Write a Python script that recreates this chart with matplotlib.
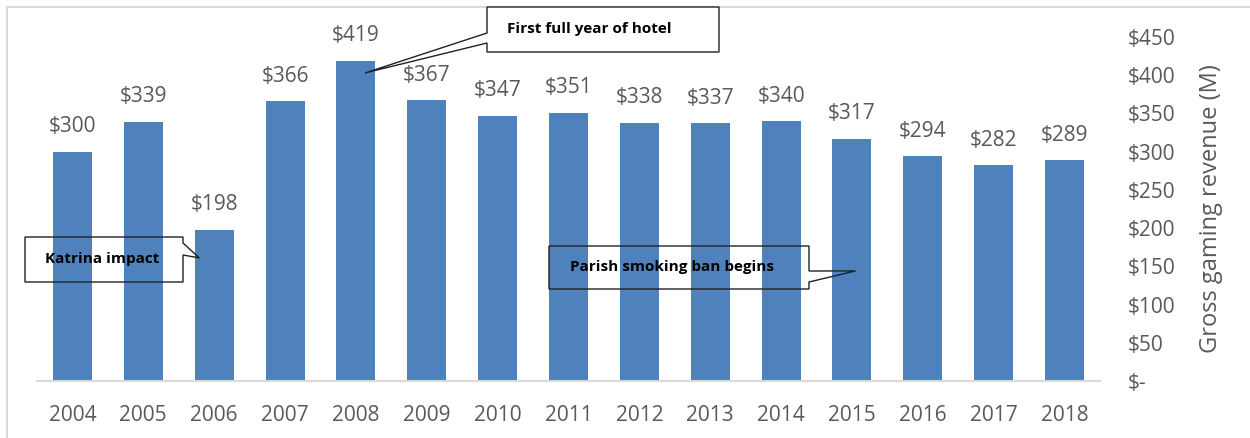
import matplotlib
matplotlib.use("Agg")
import matplotlib.pyplot as plt
from matplotlib.patches import Polygon, Rectangle
from matplotlib.ticker import FuncFormatter, MultipleLocator

years = ["2004", "2005", "2006", "2007", "2008", "2009", "2010", "2011",
         "2012", "2013", "2014", "2015", "2016", "2017", "2018"]
revenue = [300, 339, 198, 366, 419, 367, 347, 351, 338, 337, 340, 317, 294, 282, 289]

# callouts: text, pointer target (year, shift within slot, value)
callout_texts = ["Katrina impact", "First full year of hotel", "Parish smoking ban begins"]
callout_targets = [("2006", -0.21, 161), ("2008", 0.13, 403), ("2015", 0.05, 144)]

W, H = 1250, 438
plt.rcParams["font.family"] = ["Open Sans", "DejaVu Sans"]
grey = "#595959"

fig = plt.figure(figsize=(W / 100, H / 100), dpi=100)
ax = fig.add_axes([37 / W, 1 - 381 / H, (1100 - 37) / W, (381 - 37) / H])

x = range(len(years))
ax.bar(x, revenue, width=0.55, color="#4F81BD", zorder=2)
ax.set_xlim(-0.5, len(years) - 0.5)
ax.set_ylim(0, 450)
ax.set_xticks(list(x))
ax.set_xticklabels(years)

for i, v in zip(x, revenue):
    ax.annotate(f"${v}", (i, v), xytext=(0, 18), textcoords="offset points",
                ha="center", va="center", fontsize=15, color=grey)

ax.yaxis.tick_right()
ax.yaxis.set_label_position("right")
ax.yaxis.set_major_locator(MultipleLocator(50))
ax.yaxis.set_major_formatter(FuncFormatter(lambda v, p: "$-" if v == 0 else f"${v:.0f}"))
ax.tick_params(axis="y", length=0, pad=20, labelsize=15, labelcolor=grey)
ax.tick_params(axis="x", length=0, pad=17, labelsize=15, labelcolor=grey)
ax.set_ylabel("Gross gaming revenue (M)", fontsize=17, color=grey, labelpad=17)

for s in ["top", "left", "right"]:
    ax.spines[s].set_visible(False)
ax.spines["bottom"].set_color("#d9d9d9")
ax.spines["bottom"].set_linewidth(1.5)
ax.spines["bottom"].set_zorder(3)

# outer chart border
fig.patches.append(Rectangle((7 / W, -0.1), 1.2, 1 - 7 / H + 0.1,
                             transform=fig.transFigure, fill=False,
                             edgecolor="#d9d9d9", linewidth=1.5))


def to_fig(xp, yp):
    return (xp / W, 1 - yp / H)


def callout(text, target, box, wedge, side, text_x, fill):
    x0, y0, x1, y1 = box
    xi = years.index(target[0]) + target[1]
    tip = fig.transFigure.inverted().transform(ax.transData.transform((xi, target[2])))
    if side == "right":
        pts = [to_fig(x0, y0), to_fig(x1, y0), to_fig(x1, wedge[0]), tuple(tip),
               to_fig(x1, wedge[1]), to_fig(x1, y1), to_fig(x0, y1)]
    else:
        pts = [to_fig(x0, y0), to_fig(x1, y0), to_fig(x1, y1), to_fig(x0, y1),
               to_fig(x0, wedge[1]), tuple(tip), to_fig(x0, wedge[0])]
    fig.patches.append(Polygon(pts, closed=True, transform=fig.transFigure,
                               facecolor="white" if fill else "none",
                               edgecolor="#222222", linewidth=1.0, zorder=5))
    fig.text(text_x / W, 1 - ((y0 + y1) / 2) / H, text, fontsize=11,
             fontweight="bold", color="black", ha="left", va="center", zorder=6)


callout(callout_texts[0], callout_targets[0], (25, 237, 183, 282), (243, 255), "right", 45, False)
callout(callout_texts[1], callout_targets[1], (487, 7, 719, 52), (33, 43), "left", 507, True)
callout(callout_texts[2], callout_targets[2], (549, 246, 809, 289), (271, 282), "right", 570, False)

fig.savefig("out.png", dpi=100)
